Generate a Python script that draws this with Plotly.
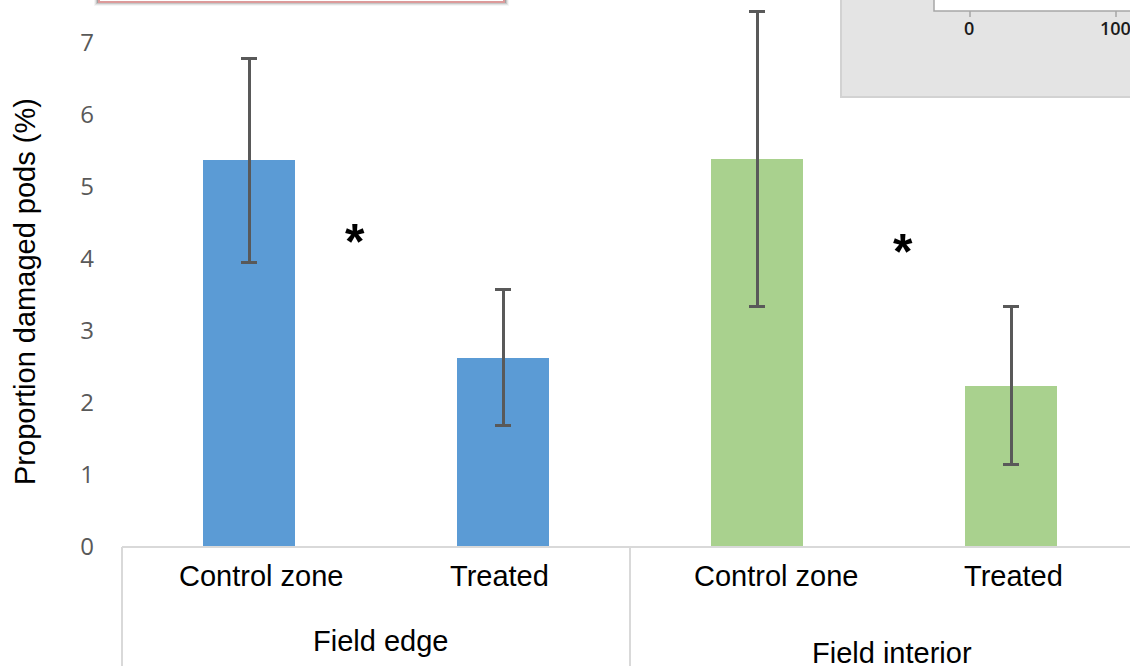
import plotly.graph_objects as go

# Mean proportion of damaged pods per zone, with error bar half-widths
categories = ["Control zone", "Treated", "Control zone", "Treated"]
groups = ["Field edge", "Field interior"]
means = [5.37, 2.63, 5.39, 2.24]
errors = [1.42, 0.94, 2.05, 1.10]
bar_colors = ["#5b9bd5", "#5b9bd5", "#a9d18e", "#a9d18e"]
y_ticks = [0, 1, 2, 3, 4, 5, 6, 7]
inset_ticks = ["0", "100"]

W, H = 1130, 666
L, T, B = 122, 0, 119
PW, PH = W - L, H - T - B


def px(x):
    return (x - L) / PW


def py(y):
    return (H - B - y) / PH


x_pos = list(range(len(categories)))

fig = go.Figure()
fig.add_trace(go.Bar(
    x=x_pos,
    y=means,
    width=0.362,
    marker=dict(color=bar_colors, line=dict(width=0)),
    error_y=dict(type="data", array=errors, visible=True,
                 color="#595959", thickness=3, width=8),
    showlegend=False,
))

shapes = []
ann = []
txt_font = dict(family="Liberation Sans, Arial", size=29, color="#000000")

# category axis: baseline and group separators
shapes.append(dict(type="line", xref="paper", yref="paper", x0=0, x1=1.01,
                   y0=0, y1=0, line=dict(color="#d9d9d9", width=2)))
for xs in (122, 630):
    shapes.append(dict(type="line", xref="paper", yref="paper",
                       x0=px(xs), x1=px(xs), y0=0, y1=py(670),
                       line=dict(color="#d9d9d9", width=2)))

label_shift = [12, -4, 19, 2]
for i, c in enumerate(categories):
    ann.append(dict(x=x_pos[i], y=py(576), xref="x", yref="paper", text=c,
                    showarrow=False, xshift=label_shift[i],
                    xanchor="center", yanchor="middle", font=txt_font))
group_pos = [(380, 641), (892, 653)]
for g, (gx, gy) in zip(groups, group_pos):
    ann.append(dict(x=px(gx), y=py(gy), xref="paper", yref="paper", text=g,
                    showarrow=False, xanchor="center", yanchor="middle",
                    font=txt_font))

# y axis title
ann.append(dict(x=px(25), y=py(292), xref="paper", yref="paper",
                text="Proportion damaged pods (%)", textangle=-90, showarrow=False,
                xanchor="center", yanchor="middle", font=txt_font))

# significance markers
for sx, sy in ((355, 242), (903, 252)):
    ann.append(dict(x=px(sx), y=py(sy), xref="paper", yref="paper", text="<b>*</b>",
                    showarrow=False, xanchor="center", yanchor="middle",
                    font=dict(family="Liberation Sans, Arial", size=50, color="#000000")))

# boxed caption edge at top left, with soft shadow
for k, op in enumerate([0.18, 0.12, 0.07, 0.04]):
    shapes.append(dict(type="rect", xref="paper", yref="paper",
                       x0=px(97 - k), x1=px(506 + k), y0=py(3 + k), y1=py(-20),
                       fillcolor="rgba(0,0,0,%s)" % op, line=dict(width=0), layer="above"))
shapes.append(dict(type="rect", xref="paper", yref="paper",
                   x0=px(99), x1=px(504), y0=py(2), y1=py(-20),
                   fillcolor="#ffffff", line=dict(color="#dc9a9a", width=2), layer="above"))

# inset panel at top right
shapes.append(dict(type="rect", xref="paper", yref="paper",
                   x0=px(841), x1=px(1135), y0=py(97), y1=py(-10),
                   fillcolor="#e4e4e4", line=dict(color="#d2d2d2", width=2), layer="above"))
shapes.append(dict(type="rect", xref="paper", yref="paper",
                   x0=px(934), x1=px(1140), y0=py(11), y1=py(-20),
                   fillcolor="#ffffff", line=dict(color="#a6a6a6", width=1.5), layer="above"))
for tx, tl in zip((970, 1116), inset_ticks):
    shapes.append(dict(type="line", xref="paper", yref="paper",
                       x0=px(tx), x1=px(tx), y0=py(11), y1=py(17),
                       line=dict(color="#a6a6a6", width=1.5), layer="above"))
    ann.append(dict(x=px(tx - 1), y=py(28), xref="paper", yref="paper", text=tl,
                    showarrow=False, xanchor="center", yanchor="middle",
                    font=dict(family="Open Sans, Noto Sans", size=18, weight=600,
                              color="#1a1a1a")))

fig.update_layout(
    width=W, height=H,
    margin=dict(l=L, r=0, t=T, b=B, pad=0),
    paper_bgcolor="#ffffff", plot_bgcolor="#ffffff",
    bargap=0,
    xaxis=dict(range=[-0.5, -0.5 + PW / 254], showticklabels=False,
               showgrid=False, zeroline=False, showline=False, ticks=""),
    yaxis=dict(range=[0, PH / 72], tickvals=y_ticks, showgrid=False,
               zeroline=False, showline=False, ticks="",
               ticklabelstandoff=27,
               tickfont=dict(family="Open Sans, Lato", size=24, color="#595959")),
    shapes=shapes,
    annotations=ann,
)

fig.write_html("out.html")
